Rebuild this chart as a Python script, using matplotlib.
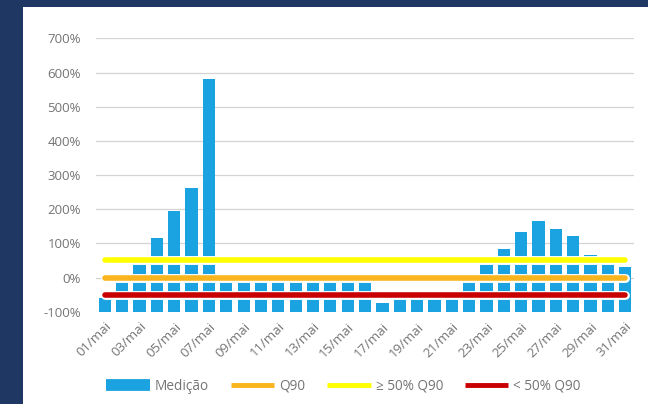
import numpy as np
import matplotlib
matplotlib.use("Agg")
import matplotlib.pyplot as plt
import matplotlib.patheffects as pe
from matplotlib.lines import Line2D
from matplotlib.patches import Rectangle

# =========================================================
# DATA
# =========================================================

days = [f"{d:02d}/mai" for d in range(1, 32)]

medicao = [-60, -5, 40, 116, 194, 261, 580,
           -5, -5, -5, -5, -5, -5, -5, -5, -5,
           -75, -60, -60, -60, -60,
           -5, 40, 84, 133, 165, 142, 123, 65, 40, 30]

q90 = [0] * 31
acima_50 = [50] * 31
abaixo_50 = [-50] * 31

# =========================================================
# STYLE
# =========================================================

plt.rcParams['font.family'] = ['Open Sans', 'DejaVu Sans']

navy = "#1F3763"
blue = "#1AA3E0"
orange = "#FAB41E"
yellow = "#FFFF00"
red = "#C80000"
grey = "#747474"

fig = plt.figure(figsize=(6.48, 4.04), dpi=100)
fig.patch.set_facecolor(navy)
panel = Rectangle((23 / 648, 0), 1, (404 - 7) / 404,
                  transform=fig.transFigure, facecolor="white",
                  edgecolor="none", zorder=-10)
fig.add_artist(panel)

ax = fig.add_axes([0.1486, 0.2285, 0.8294, 0.6765])
ax.set_facecolor("none")

x = np.arange(len(days))
base = -100

ax.bar(x, np.array(medicao) - base, bottom=base, width=0.71,
       color=blue, zorder=2)

halo = [pe.Stroke(linewidth=6.4, foreground="white"), pe.Normal()]
for vals, c in [(q90, orange), (acima_50, yellow), (abaixo_50, red)]:
    ax.plot(x, vals, color=c, linewidth=4.0, solid_capstyle="round",
            path_effects=halo, zorder=3)

ax.set_xlim(-0.5, len(days) - 0.5)
ax.set_ylim(-100, 700)
ax.set_yticks(range(-100, 701, 100))
ax.set_yticklabels([f"{v}%" for v in range(-100, 701, 100)])
ax.yaxis.grid(True, color="#D4D4D4", linewidth=0.9, zorder=0)
ax.set_axisbelow(True)

ax.set_xticks(x[::2])
ax.set_xticklabels(days[::2], rotation=45, ha="right", va="top",
                   rotation_mode="anchor")

ax.tick_params(axis="both", length=0, colors=grey, labelsize=9.5)
ax.tick_params(axis="y", pad=11)
ax.tick_params(axis="x", pad=6)

for s in ax.spines.values():
    s.set_visible(False)

legend_elements = [
    Line2D([0], [0], color=blue, linewidth=8.5, solid_capstyle="butt",
           label="Medição"),
    Line2D([0], [0], color=orange, linewidth=3.5, solid_capstyle="butt",
           label="Q90"),
    Line2D([0], [0], color=yellow, linewidth=3.5, solid_capstyle="butt",
           label="≥ 50% Q90"),
    Line2D([0], [0], color=red, linewidth=3.5, solid_capstyle="butt",
           label="< 50% Q90"),
]

fig.legend(handles=legend_elements, loc="center", ncol=4, frameon=False,
           bbox_to_anchor=(343.5 / 648, 1 - 386 / 404), fontsize=9.8,
           labelcolor=grey, handlelength=3.2, handletextpad=0.37,
           columnspacing=1.6)

fig.savefig("out.png", dpi=100, facecolor=fig.get_facecolor())
